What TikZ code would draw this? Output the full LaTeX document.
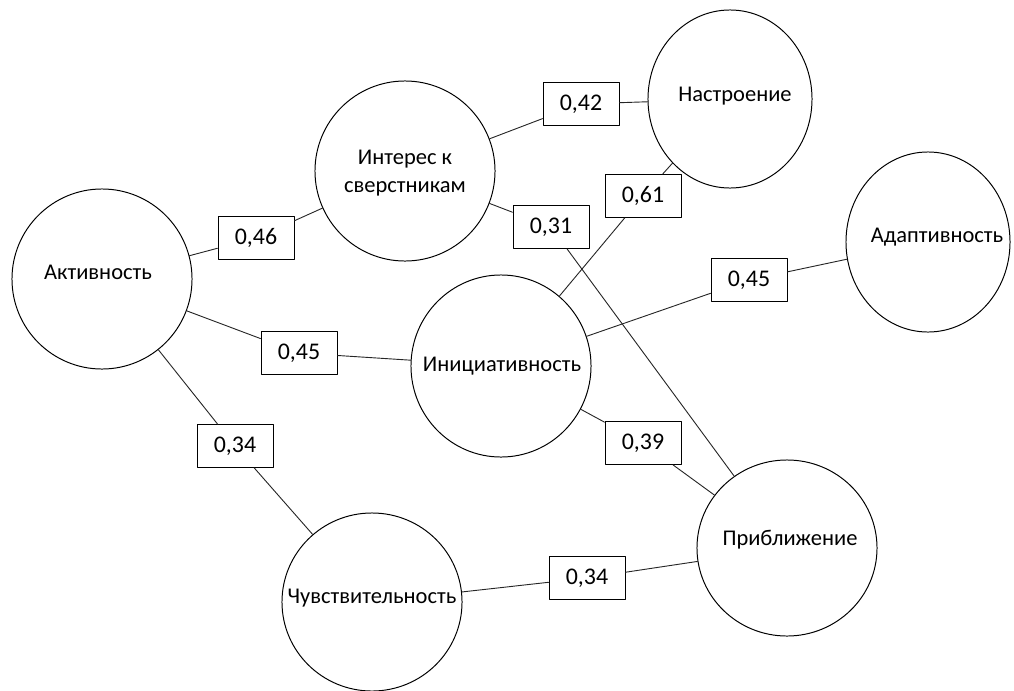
\documentclass[tikz,border=0pt]{standalone}
\usepackage{fontspec}
\setmainfont{Carlito}
\usetikzlibrary{shapes.geometric}
\tikzset{
  bubble/.style={draw,ellipse,line width=0.7pt,inner sep=0pt,minimum width=4.5cm,minimum height=4.5cm},
  bubtext/.style={font=\fontsize{16}{19.5}\selectfont,align=center,inner sep=0pt},
  weight/.style={draw,fill=white,line width=0.7pt,minimum width=1.9cm,minimum height=1.07cm,inner sep=0pt,font=\fontsize{17}{20}\selectfont},
  link/.style={line width=0.65pt,black!85}
}
\begin{document}
\begin{tikzpicture}[x=0.025cm,y=-0.025cm,line cap=round,line join=round]
  \useasboundingbox (0,0) rectangle (1014,691);
  % factors
  \node[bubble] (akt) at (102,279) {};
  \node[bubble] (inter) at (405,171) {};
  \node[bubble,minimum width=4.1cm,minimum height=4.45cm] (nastr) at (730,99) {};
  \node[bubble,minimum width=4.1cm] (adapt) at (928,242) {};
  \node[bubble,minimum height=4.55cm] (inic) at (501,366) {};
  \node[bubble,minimum height=4.4cm] (pribl) at (787,548) {};
  \node[bubble,minimum height=4.45cm] (chuv) at (372,602) {};
  \node[bubtext] (akt-t) at (98,272) {Активность};
  \node[bubtext] (inter-t) at (405,173) {Интерес к\\сверстникам};
  \node[bubtext] (nastr-t) at (735,96) {Настроение};
  \node[bubtext] (adapt-t) at (937,237) {Адаптивность};
  \node[bubtext] (inic-t) at (502,366) {Инициативность};
  \node[bubtext] (pribl-t) at (790,540) {Приближение};
  \node[bubtext] (chuv-t) at (372,598) {Чувствительность};
  % correlations
  \node[weight] (w046) at (256,238) {0,46};
  \node[weight] (w042) at (581,104) {0,42};
  \node[weight] (w061) at (643,196) {0,61};
  \node[weight] (w031) at (551,227) {0,31};
  \node[weight] (w045a) at (749,280) {0,45};
  \node[weight] (w045b) at (299,353) {0,45};
  \node[weight] (w034a) at (235,446) {0,34};
  \node[weight] (w039) at (643,443) {0,39};
  \node[weight] (w034b) at (587,578) {0,34};
  \draw[link] (akt) -- (w046) -- (inter);
  \draw[link] (inter) -- (w042) -- (nastr);
  \draw[link] (inter) -- (w031) -- (pribl);
  \draw[link] (inic) -- (w061) -- (nastr);
  \draw[link] (inic) -- (w045a) -- (adapt);
  \draw[link] (akt) -- (w045b) -- (inic);
  \draw[link] (akt) -- (w034a) -- (chuv);
  \draw[link] (inic) -- (w039) -- (pribl);
  \draw[link] (chuv) -- (w034b) -- (pribl);
\end{tikzpicture}
\end{document}
